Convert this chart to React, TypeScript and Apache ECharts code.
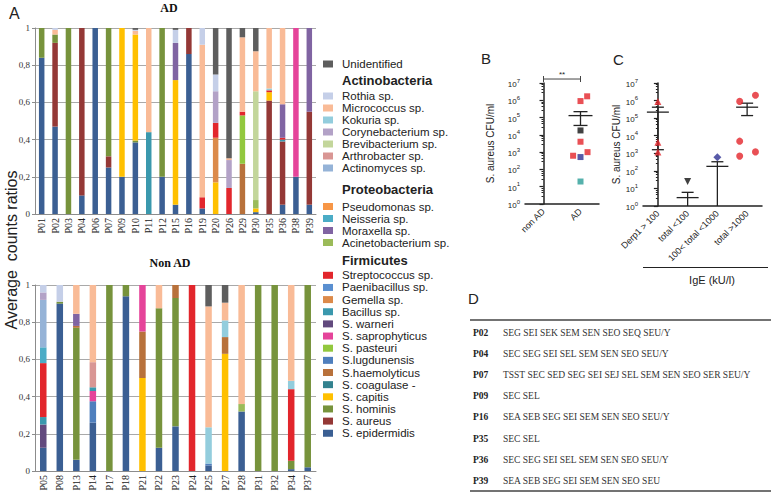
import React, { useEffect, useRef } from "react";
import * as echarts from "echarts";

type Pair = [string, number];

// ---------- Panel A data ----------
const adPatients = ["P01", "P02", "P03", "P04", "P06", "P07", "P09", "P10", "P11", "P12", "P15", "P16", "P19", "P20", "P26", "P29", "P30", "P35", "P36", "P38", "P39"];
const nonAdPatients = ["P05", "P08", "P13", "P14", "P17", "P18", "P21", "P22", "P23", "P24", "P25", "P27", "P28", "P31", "P32", "P34", "P37"];

// stacking order, bottom -> top
const speciesStack = [
  "S. epidermidis", "S. aureus", "S. hominis", "S. capitis", "S. coagulase -", "S.haemolyticus",
  "S.lugdunensis", "S. pasteuri", "S. saprophyticus", "S. warneri", "Bacillus sp.", "Gemella sp.",
  "Paenibacillus sp.", "Streptococcus sp.", "Acinetobacterium sp.", "Moraxella sp.", "Neisseria sp.",
  "Pseudomonas sp.", "Actinomyces sp.", "Arthrobacter sp.", "Brevibacterium sp.", "Corynebacterium sp.",
  "Kokuria sp.", "Micrococcus sp.", "Rothia sp.", "Unidentified",
];
const speciesColors = [
  "#3b5f93", "#943836", "#77933c", "#ffc000", "#33828f", "#b8713b",
  "#4f7fbd", "#92c83e", "#e5449a", "#624a7e", "#3a98ad", "#dc8a4a",
  "#5a8fd0", "#e2262c", "#9bbb59", "#8064a2", "#4bacc6",
  "#f79646", "#95b3d7", "#d99694", "#c3d69b", "#b3a2c7",
  "#93cddd", "#f9bb97", "#c5cfe8", "#5e5e5e",
];

const legendUnidentified = ["Unidentified"];
const legendActinobacteria = ["Rothia sp.", "Micrococcus sp.", "Kokuria sp.", "Corynebacterium sp.", "Brevibacterium sp.", "Arthrobacter sp.", "Actinomyces sp."];
const legendProteobacteria = ["Pseudomonas sp.", "Neisseria sp.", "Moraxella sp.", "Acinetobacterium sp."];
const legendFirmicutes = ["Streptococcus sp.", "Paenibacillus sp.", "Gemella sp.", "Bacillus sp.", "S. warneri", "S. saprophyticus", "S. pasteuri", "S.lugdunensis", "S.haemolyticus", "S. coagulase -", "S. capitis", "S. hominis", "S. aureus", "S. epidermidis"];

// AD ratios (patient, ratio)
const adEpidermidis: Pair[] = [["P01", 0.84], ["P02", 0.47], ["P04", 0.1], ["P06", 1], ["P07", 0.25], ["P09", 0.2], ["P10", 0.385], ["P12", 0.2], ["P15", 0.05], ["P16", 0.86], ["P19", 0.03], ["P30", 0.01], ["P36", 0.05], ["P38", 0.2], ["P39", 0.05]];
const adAureus: Pair[] = [["P02", 0.45], ["P04", 0.9], ["P07", 0.06], ["P16", 0.14], ["P35", 0.61], ["P36", 0.34], ["P39", 0.5]];
const adHominis: Pair[] = [["P01", 0.16], ["P02", 0.045], ["P03", 1], ["P07", 0.69], ["P10", 0.01], ["P12", 0.8]];
const adCapitis: Pair[] = [["P09", 0.8], ["P10", 0.57], ["P15", 0.67], ["P20", 0.17], ["P30", 0.02], ["P35", 0.045]];
const adHaemolyticus: Pair[] = [["P29", 0.27]];
const adPasteuri: Pair[] = [["P29", 0.26]];
const adSaprophyticus: Pair[] = [["P38", 0.8]];
const adBacillus: Pair[] = [["P11", 0.44], ["P36", 0.01]];
const adGemella: Pair[] = [["P20", 0.24]];
const adStreptococcus: Pair[] = [["P19", 0.06], ["P20", 0.08], ["P26", 0.14], ["P29", 0.02], ["P35", 0.01], ["P36", 0.01]];
const adAcinetobacterium: Pair[] = [["P30", 0.045]];
const adMoraxella: Pair[] = [["P15", 0.2], ["P36", 0.18], ["P39", 0.45]];
const adBrevibacterium: Pair[] = [["P30", 0.585]];
const adCorynebacterium: Pair[] = [["P20", 0.17], ["P26", 0.15]];
const adKokuria: Pair[] = [["P35", 0.01]];
const adMicrococcus: Pair[] = [["P02", 0.025], ["P10", 0.02], ["P11", 0.56], ["P19", 0.82], ["P26", 0.01], ["P29", 0.4], ["P30", 0.215], ["P35", 0.325], ["P36", 0.41]];
const adRothia: Pair[] = [["P02", 0.01], ["P10", 0.005], ["P15", 0.07], ["P19", 0.09], ["P20", 0.09]];
const adUnidentified: Pair[] = [["P10", 0.01], ["P15", 0.01], ["P20", 0.25], ["P26", 0.7], ["P29", 0.05], ["P30", 0.125]];

// Non AD ratios (patient, ratio)
const naEpidermidis: Pair[] = [["P05", 0.125], ["P08", 0.9], ["P13", 0.06], ["P14", 0.26], ["P18", 0.94], ["P22", 0.125], ["P23", 0.24], ["P25", 0.03], ["P28", 0.32], ["P34", 0.01], ["P37", 0.02]];
const naHominis: Pair[] = [["P08", 0.01], ["P13", 0.71], ["P17", 1], ["P18", 0.06], ["P22", 0.75], ["P23", 0.69], ["P31", 1], ["P32", 1], ["P34", 0.045], ["P37", 0.98]];
const naCapitis: Pair[] = [["P21", 0.5], ["P27", 0.63]];
const naHaemolyticus: Pair[] = [["P13", 0.01], ["P21", 0.25], ["P23", 0.07], ["P27", 0.09]];
const naLugdunensis: Pair[] = [["P14", 0.115], ["P25", 0.01]];
const naSaprophyticus: Pair[] = [["P14", 0.055], ["P21", 0.25]];
const naWarneri: Pair[] = [["P05", 0.125]];
const naBacillus: Pair[] = [["P05", 0.04], ["P14", 0.02]];
const naStreptococcus: Pair[] = [["P05", 0.29], ["P24", 1], ["P34", 0.385]];
const naAcinetobacterium: Pair[] = [["P28", 0.04]];
const naMoraxella: Pair[] = [["P13", 0.065]];
const naNeisseria: Pair[] = [["P05", 0.085]];
const naActinomyces: Pair[] = [["P05", 0.255]];
const naArthrobacter: Pair[] = [["P14", 0.135]];
const naCorynebacterium: Pair[] = [["P05", 0.04]];
const naKokuria: Pair[] = [["P25", 0.195], ["P27", 0.09], ["P34", 0.045]];
const naMicrococcus: Pair[] = [["P13", 0.155], ["P14", 0.415], ["P22", 0.125], ["P25", 0.65], ["P27", 0.095], ["P28", 0.64], ["P34", 0.515]];
const naRothia: Pair[] = [["P05", 0.04], ["P08", 0.09]];
const naUnidentified: Pair[] = [["P25", 0.115], ["P27", 0.095]];

const adBySpecies: Record<string, Pair[]> = {
  "S. epidermidis": adEpidermidis, "S. aureus": adAureus, "S. hominis": adHominis, "S. capitis": adCapitis,
  "S.haemolyticus": adHaemolyticus, "S. pasteuri": adPasteuri, "S. saprophyticus": adSaprophyticus,
  "Bacillus sp.": adBacillus, "Gemella sp.": adGemella, "Streptococcus sp.": adStreptococcus,
  "Acinetobacterium sp.": adAcinetobacterium, "Moraxella sp.": adMoraxella, "Brevibacterium sp.": adBrevibacterium,
  "Corynebacterium sp.": adCorynebacterium, "Kokuria sp.": adKokuria, "Micrococcus sp.": adMicrococcus,
  "Rothia sp.": adRothia, "Unidentified": adUnidentified,
};
const nonAdBySpecies: Record<string, Pair[]> = {
  "S. epidermidis": naEpidermidis, "S. hominis": naHominis, "S. capitis": naCapitis,
  "S.haemolyticus": naHaemolyticus, "S.lugdunensis": naLugdunensis, "S. saprophyticus": naSaprophyticus,
  "S. warneri": naWarneri, "Bacillus sp.": naBacillus, "Streptococcus sp.": naStreptococcus,
  "Acinetobacterium sp.": naAcinetobacterium, "Moraxella sp.": naMoraxella, "Neisseria sp.": naNeisseria,
  "Actinomyces sp.": naActinomyces, "Arthrobacter sp.": naArthrobacter, "Corynebacterium sp.": naCorynebacterium,
  "Kokuria sp.": naKokuria, "Micrococcus sp.": naMicrococcus, "Rothia sp.": naRothia, "Unidentified": naUnidentified,
};

// ---------- Panel B data ----------
const bGroups = ["non AD", "AD"];
const bPointX = [1, 1.18, 1, 1, 0.8, 1, 1.19, 1];
const bPointY = [9e5, 1.7e6, 1.8e4, 4.0e3, 6.2e2, 5.2e2, 1.0e3, 20];
const bPointColor = ["#e3242b", "#e3242b", "#111111", "#e3242b", "#e3242b", "#2e3192", "#e3242b", "#2a9d97"];
const bMeanSem = [[1, 1.3e5, 3.5e4, 2.2e5]]; // x, mean, lower, upper
const bSignificance = [[0, 1.7e7, 1]]; // x1, y, x2

// ---------- Panel C data ----------
const cGroups = ["Derp1 > 100", "total <100", "100< total <1000", "total >1000"];
const cDerpX = [0, 0, 0];
const cDerpY = [9e5, 4.3e3, 1.2e3];
const cLowX = [1];
const cLowY = [25];
const cMidX = [2];
const cMidY = [600];
const cHighX = [2.75, 3.28, 2.75, 2.75, 3.28];
const cHighY = [9e5, 2.0e6, 4.9e3, 6.9e2, 1.2e3];
const cMeanSem = [
  [0, 2.2e5, 1.6e3, 4.2e5],
  [1, 3.0, 1, 6.0],
  [2, 180, 1, 330],
  [3, 4.2e5, 1.4e5, 7.1e5],
];

// ---------- Panel D data ----------
const dPatients = ["P02", "P04", "P07", "P09", "P16", "P35", "P36", "P39"];
const dToxins = [
  "SEG SEI SEK SEM SEN SEO SEQ SEU/Y",
  "SEC SEG SEI SEL SEM SEN SEO SEU/Y",
  "TSST SEC SED SEG SEI SEJ SEL SEM SEN SEO SER SEU/Y",
  "SEC SEL",
  "SEA SEB SEG SEI SEM SEN SEO SEU/Y",
  "SEC SEL",
  "SEC SEG SEI SEL SEM SEN SEO SEU/Y",
  "SEA SEB SEG SEI SEM SEN SEO SEU",
];

const SERIF = "Liberation Serif";
const SANS = "Liberation Sans";

function lookup(list: Pair[] | undefined, p: string): number {
  if (!list) return 0;
  const f = list.find((d) => d[0] === p);
  return f ? f[1] : 0;
}

function txt(x: number, y: number, text: string, o: any = {}) {
  const align = o.align || "left";
  const va = o.verticalAlign || "middle";
  return {
    type: "text",
    x,
    y,
    rotation: o.rotation || 0,
    style: {
      text,
      fontFamily: o.fontFamily || SANS,
      fontSize: o.fontSize || 12,
      fontWeight: o.fontWeight || "normal",
      fill: o.fill || "#222",
      align,
      verticalAlign: va,
      textAlign: align,
      textVerticalAlign: va,
    },
  };
}

function meanSemRender(halfMean: number, halfCap: number) {
  return (params: any, api: any) => {
    const x = api.value(0);
    const m = api.value(1);
    const lo = api.value(2);
    const hi = api.value(3);
    const pm = api.coord([x, m]);
    const pl = api.coord([x, lo]);
    const ph = api.coord([x, hi]);
    const st = { stroke: "#222", lineWidth: 1.3 };
    const children: any[] = [
      { type: "line", shape: { x1: pm[0] - halfMean, y1: pm[1], x2: pm[0] + halfMean, y2: pm[1] }, style: st },
      { type: "line", shape: { x1: ph[0], y1: ph[1], x2: pl[0], y2: pl[1] }, style: st },
      { type: "line", shape: { x1: ph[0] - halfCap, y1: ph[1], x2: ph[0] + halfCap, y2: ph[1] }, style: st },
    ];
    if (lo > 1) {
      children.push({ type: "line", shape: { x1: pl[0] - halfCap, y1: pl[1], x2: pl[0] + halfCap, y2: pl[1] }, style: st });
    }
    return { type: "group", children };
  };
}

function sigRender(params: any, api: any) {
  const p1 = api.coord([api.value(0), api.value(1)]);
  const p2 = api.coord([api.value(2), api.value(1)]);
  const st = { stroke: "#444", lineWidth: 1 };
  return {
    type: "group",
    children: [
      { type: "line", shape: { x1: p1[0], y1: p1[1], x2: p2[0], y2: p2[1] }, style: st },
      { type: "line", shape: { x1: p1[0], y1: p1[1] - 3, x2: p1[0], y2: p1[1] + 3 }, style: st },
      { type: "line", shape: { x1: p2[0], y1: p2[1] - 3, x2: p2[0], y2: p2[1] + 3 }, style: st },
      { type: "text", x: (p1[0] + p2[0]) / 2, y: p1[1] - 1, style: { text: "**", fontSize: 8, fontFamily: SANS, fill: "#222", align: "center", verticalAlign: "bottom" } },
    ],
  };
}

const logLabel = {
  fontFamily: SANS,
  color: "#222",
  margin: 5,
  formatter: (v: number) => `{b|10}{s|${Math.round(Math.log10(v))}}`,
  rich: {
    b: { fontSize: 8, fontFamily: SANS, color: "#222", lineHeight: 11, verticalAlign: "bottom" },
    s: { fontSize: 6, fontFamily: SANS, color: "#222", verticalAlign: "top" },
  },
};

function buildOption(): any {
  const barAxisLine = { lineStyle: { color: "#8c8c8c" } };
  const ratioFormatter = (v: number) => (v === 0 ? "0" : v === 1 ? "1" : v.toFixed(1).replace(".", ","));
  const ratioY = (gridIndex: number) => ({
    type: "value",
    gridIndex,
    min: 0,
    max: 1,
    interval: 0.2,
    axisLine: { show: true, ...barAxisLine },
    axisTick: { show: true, length: 3, lineStyle: { color: "#8c8c8c" } },
    splitLine: { lineStyle: { color: "#a9a9a9" } },
    axisLabel: { fontFamily: SERIF, fontSize: 9, color: "#333", margin: 5, formatter: ratioFormatter },
  });
  const patientX = (gridIndex: number, data: string[]) => ({
    type: "category",
    gridIndex,
    data,
    axisLine: barAxisLine,
    axisTick: { length: 3, lineStyle: { color: "#8c8c8c" } },
    axisLabel: { rotate: 90, interval: 0, fontFamily: SERIF, fontSize: 10, color: "#222", margin: 4 },
  });
  const blackLine = { lineStyle: { color: "#222", width: 1.5 } };

  const series: any[] = [];
  speciesStack.forEach((sp, i) => {
    series.push({
      type: "bar",
      name: sp,
      xAxisIndex: 0,
      yAxisIndex: 0,
      stack: "ad",
      barWidth: 5.5,
      itemStyle: { color: speciesColors[i] },
      data: adPatients.map((p) => lookup(adBySpecies[sp], p)),
    });
    series.push({
      type: "bar",
      name: sp,
      xAxisIndex: 1,
      yAxisIndex: 1,
      stack: "nonad",
      barWidth: 6.5,
      itemStyle: { color: speciesColors[i] },
      data: nonAdPatients.map((p) => lookup(nonAdBySpecies[sp], p)),
    });
  });

  // panel B
  series.push({
    type: "scatter",
    xAxisIndex: 3,
    yAxisIndex: 2,
    symbol: "rect",
    symbolSize: 6,
    data: bPointX.map((x, i) => ({ value: [x, bPointY[i]], itemStyle: { color: bPointColor[i] } })),
  });
  series.push({ type: "custom", xAxisIndex: 3, yAxisIndex: 2, data: bMeanSem, renderItem: meanSemRender(12, 7), clip: false });
  series.push({ type: "custom", xAxisIndex: 3, yAxisIndex: 2, data: bSignificance, renderItem: sigRender, clip: false });

  // panel C
  series.push({ type: "scatter", xAxisIndex: 5, yAxisIndex: 3, symbol: "triangle", symbolSize: 7, itemStyle: { color: "#e3242b" }, data: cDerpX.map((x, i) => [x, cDerpY[i]]) });
  series.push({ type: "scatter", xAxisIndex: 5, yAxisIndex: 3, symbol: "triangle", symbolRotate: 180, symbolSize: 7, itemStyle: { color: "#111" }, data: cLowX.map((x, i) => [x, cLowY[i]]) });
  series.push({ type: "scatter", xAxisIndex: 5, yAxisIndex: 3, symbol: "diamond", symbolSize: 8, itemStyle: { color: "#2e3192" }, data: cMidX.map((x, i) => [x, cMidY[i]]) });
  series.push({ type: "scatter", xAxisIndex: 5, yAxisIndex: 3, symbol: "circle", symbolSize: 7, itemStyle: { color: "#e3242b" }, data: cHighX.map((x, i) => [x, cHighY[i]]) });
  series.push({ type: "custom", xAxisIndex: 5, yAxisIndex: 3, data: cMeanSem, renderItem: meanSemRender(11, 6), clip: false });

  const legendCommon = {
    orient: "vertical",
    left: 323,
    itemWidth: 10,
    itemHeight: 7,
    itemGap: 0,
    icon: "rect",
    padding: 0,
    selectedMode: false,
    textStyle: { fontFamily: SANS, fontSize: 11.5, color: "#222", lineHeight: 12, padding: [0, 0, 0, 4] },
  };

  const tableRowsY = dPatients.map((_, i) => 332.5 + i * 21.2);
  const tableGraphics: any[] = [];
  dPatients.forEach((p, i) => {
    tableGraphics.push(txt(473, tableRowsY[i], p, { fontFamily: SERIF, fontSize: 9.5, fontWeight: "bold", fill: "#222" }));
    tableGraphics.push(txt(503, tableRowsY[i], dToxins[i], { fontFamily: SERIF, fontSize: 9.5, fill: "#333" }));
  });

  return {
    animation: false,
    backgroundColor: "#ffffff",
    grid: [
      { left: 35, top: 28, width: 281, height: 186 },
      { left: 35, top: 285, width: 281, height: 186 },
      { left: 525, top: 83, width: 74, height: 121 },
      { left: 643, top: 83, width: 119, height: 123 },
    ],
    xAxis: [
      patientX(0, adPatients),
      patientX(1, nonAdPatients),
      {
        type: "category",
        gridIndex: 2,
        data: bGroups,
        axisLine: blackLine,
        axisTick: { alignWithLabel: true, length: 4, lineStyle: { color: "#222", width: 1.2 } },
        axisLabel: { rotate: 45, interval: 0, fontFamily: SANS, fontSize: 9, color: "#222", margin: 6 },
      },
      { type: "value", gridIndex: 2, min: -0.5, max: 1.5, show: false },
      {
        type: "category",
        gridIndex: 3,
        data: cGroups,
        axisLine: blackLine,
        axisTick: { alignWithLabel: true, length: 4, lineStyle: { color: "#222", width: 1.2 } },
        axisLabel: { rotate: 45, interval: 0, fontFamily: SANS, fontSize: 9, color: "#222", margin: 6 },
      },
      { type: "value", gridIndex: 3, min: -0.5, max: 3.5, show: false },
    ],
    yAxis: [
      ratioY(0),
      ratioY(1),
      {
        type: "log",
        gridIndex: 2,
        logBase: 10,
        min: 1,
        max: 1e7,
        splitNumber: 7,
        axisLine: { show: true, ...blackLine },
        axisTick: { show: true, length: 4, lineStyle: { color: "#222", width: 1.2 } },
        minorTick: { show: true, splitNumber: 5, length: 2, lineStyle: { color: "#222" } },
        splitLine: { show: false },
        axisLabel: logLabel,
        name: "S. aureus CFU/ml",
        nameLocation: "middle",
        nameGap: 30,
        nameTextStyle: { fontFamily: SANS, fontSize: 10, color: "#222" },
      },
      {
        type: "log",
        gridIndex: 3,
        logBase: 10,
        min: 1,
        max: 1e7,
        splitNumber: 7,
        axisLine: { show: true, ...blackLine },
        axisTick: { show: true, length: 4, lineStyle: { color: "#222", width: 1.2 } },
        minorTick: { show: true, splitNumber: 5, length: 2, lineStyle: { color: "#222" } },
        splitLine: { show: false },
        axisLabel: logLabel,
        name: "S. aureus CFU/ml",
        nameLocation: "middle",
        nameGap: 22,
        nameTextStyle: { fontFamily: SANS, fontSize: 10, color: "#222" },
      },
    ],
    legend: [
      { ...legendCommon, top: 58, data: legendUnidentified },
      { ...legendCommon, top: 90, data: legendActinobacteria },
      { ...legendCommon, top: 200.5, data: legendProteobacteria },
      { ...legendCommon, top: 269.3, itemGap: 0.15, data: legendFirmicutes },
    ],
    graphic: [
      txt(9, 13, "A", { fontSize: 16 }),
      txt(481, 58, "B", { fontSize: 15 }),
      txt(613, 59, "C", { fontSize: 15 }),
      txt(468, 298, "D", { fontSize: 15 }),
      txt(169, 8, "AD", { fontFamily: SERIF, fontWeight: "bold", fontSize: 12, align: "center", fill: "#111" }),
      txt(170, 263, "Non AD", { fontFamily: SERIF, fontWeight: "bold", fontSize: 12, align: "center", fill: "#111" }),
      txt(11, 250, "Average  counts ratios", { fontSize: 16, align: "center", rotation: Math.PI / 2 }),
      txt(342, 80, "Actinobacteria", { fontSize: 13, fontWeight: "bold", fill: "#222" }),
      txt(342, 189.5, "Proteobacteria", { fontSize: 13, fontWeight: "bold", fill: "#222" }),
      txt(342, 260, "Firmicutes", { fontSize: 13, fontWeight: "bold", fill: "#222" }),
      { type: "line", shape: { x1: 643, y1: 267.5, x2: 768, y2: 267.5 }, style: { stroke: "#222", lineWidth: 1 } },
      txt(712, 274, "IgE (kU/l)", { fontSize: 11, align: "center", verticalAlign: "top" }),
      { type: "line", shape: { x1: 470, y1: 320, x2: 771, y2: 320 }, style: { stroke: "#444", lineWidth: 1.5 } },
      { type: "line", shape: { x1: 470, y1: 491, x2: 771, y2: 491 }, style: { stroke: "#444", lineWidth: 1.5 } },
      ...tableGraphics,
    ],
    series,
  };
}

export default function App() {
  const ref = useRef<HTMLDivElement>(null);
  useEffect(() => {
    if (!ref.current) return;
    const chart = echarts.init(ref.current, undefined, { renderer: "svg" });
    chart.setOption(buildOption());
    return () => chart.dispose();
  }, []);
  return (
    <div
      ref={ref}
      style={{ position: "fixed", left: 0, top: 0, width: 771, height: 497, background: "#fff" }}
    />
  );
}
